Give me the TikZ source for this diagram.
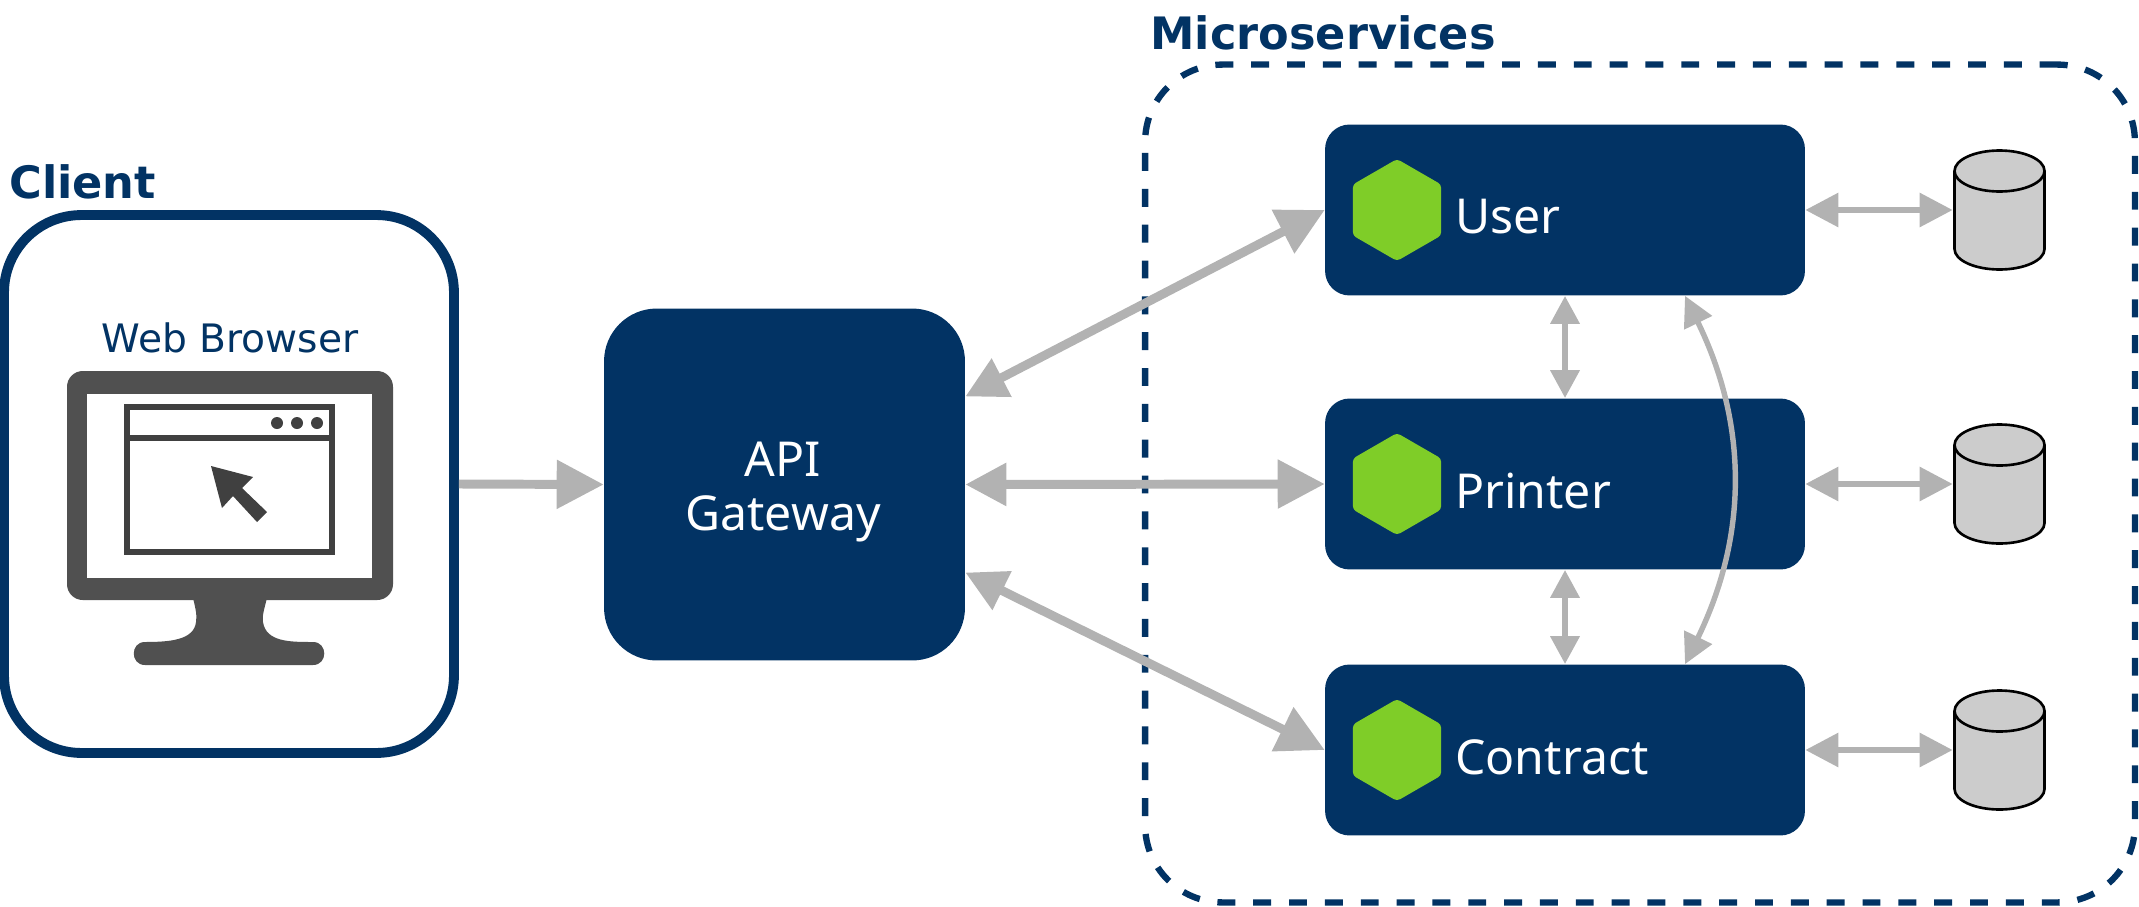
\documentclass[tikz,border=0pt]{standalone}
\usepackage{fontspec}
\setmainfont{DejaVu Sans}
\newfontfamily\svcfont{Noto Sans}
\usetikzlibrary{arrows.meta,shapes.geometric,calc}

\definecolor{navy}{HTML}{023364}
\definecolor{arrowgray}{HTML}{B2B2B2}
\definecolor{leaf}{HTML}{7FCD28}
\definecolor{screen}{HTML}{505050}
\definecolor{window}{HTML}{404040}
\definecolor{disk}{HTML}{CCCCCC}

\tikzset{
  title/.style={anchor=base west,inner sep=0pt,text=navy,font=\bfseries\fontsize{25.4}{30}\selectfont},
  service/.style={fill=navy,rounded corners=14pt,minimum width=9.6cm,minimum height=3.42cm,inner sep=0pt},
  hexa/.style={regular polygon,regular polygon sides=6,shape border rotate=30,fill=leaf,
    minimum size=2.04cm,inner sep=0pt,rounded corners=2pt},
  svclabel/.style={anchor=west,inner sep=0pt,text=white,font=\svcfont\fontsize{27.4}{31}\selectfont},
  dbbox/.style={minimum width=1.86cm,minimum height=2.44cm,inner sep=0pt},
  database/.style={draw=black,line width=1.5pt,fill=disk},
  bigarrow/.style={draw=arrowgray,line width=5.1pt,
    {Triangle[length=.82cm,width=.82cm]}-{Triangle[length=.94cm,width=.94cm]}},
  oneway/.style={draw=arrowgray,line width=5.1pt,-{Triangle[length=.94cm,width=.94cm]}},
  dbarrow/.style={draw=arrowgray,line width=3.4pt,
    {Triangle[length=.66cm,width=.66cm]}-{Triangle[length=.66cm,width=.66cm]}},
  smallarrow/.style={draw=arrowgray,line width=3.7pt,
    {Triangle[length=.56cm,width=.56cm]}-{Triangle[length=.56cm,width=.56cm]}},
  thinarrow/.style={draw=arrowgray,line width=3.1pt,
    {Triangle[length=.6cm,width=.6cm]}-{Triangle[length=.6cm,width=.6cm]}}
}

\begin{document}
\begin{tikzpicture}[x=0.02cm,y=-0.02cm]
\useasboundingbox (0,0) rectangle (2139,906);

% Contenedor de microservicios
\node (micro) at (1640,483.5) [draw=navy,line width=3.6pt,dash pattern=on 10.2pt off 10.2pt,rounded corners=44pt,
  minimum width=19.8cm,minimum height=16.76cm,inner sep=0pt] {};
\node (microtitle) at (1150,49) [title] {Microservices};

% Cliente
\node (client) at (229,484) [draw=navy,line width=5.6pt,fill=white,rounded corners=44pt,
  minimum width=9cm,minimum height=10.76cm,inner sep=0pt] {};
\node (clienttitle) at (9,198) [title] {Client};
\node (browser) at (230,352) [anchor=base,inner sep=0pt,text=navy,font=\fontsize{22.3}{26}\selectfont] {Web Browser};

% Monitor
\fill[screen,rounded corners=9pt] (67,371) rectangle (393,600);
\fill[white] (87,394) rectangle (372,578);
\fill[screen] (193,598) .. controls (196,610) and (197,616) .. (196,622)
  .. controls (194,640) and (170,642) .. (145,642)
  .. controls (130,642) and (130,665) .. (145,665) -- (313,665)
  .. controls (328,665) and (328,642) .. (313,642)
  .. controls (290,642) and (266,642) .. (263,622)
  .. controls (262,616) and (264,610) .. (267,598) -- cycle;

% Ventana y cursor
\draw[window,line width=3.6pt] (127,407) rectangle (332,552);
\draw[window,line width=3.6pt] (127,438) -- (332,438);
\foreach \x in {277,297,317} {
    \fill[window] (\x,423) circle (6);
}
\fill[window] (211,466) -- (253,477) -- (242,488) -- (267,512) -- (257,522)
  -- (233,496) -- (222,508) -- cycle;

% Gateway
\node (gateway) at (784.5,484.5) [fill=navy,rounded corners=30pt,minimum width=7.22cm,minimum height=7.04cm,inner sep=0pt] {};
\node (gatewaylabel) at (783,492) [inner sep=0pt,align=center,text=white,font=\svcfont\fontsize{27.4}{31}\selectfont] {API\\Gateway};

% Servicios y bases de datos
\foreach \name/\txt/\y in {user/User/210,printer/Printer/484,contract/Contract/750} {
    \node (\name) at (1565,\y) [service] {};
    \node (\name hex) at (1397,\y) [hexa] {};
    \node (\name label) at (1455,\y+7) [svclabel] {\txt};
    \node (\name db) at (1999.5,\y) [dbbox] {};
    \draw[database] (1954.5,\y-39) arc[start angle=180,end angle=360,x radius=45,y radius=20.5]
      -- (2044.5,\y+39) arc[start angle=0,end angle=180,x radius=45,y radius=20.5] -- cycle;
    \draw[database,fill=none] (1954.5,\y-39) arc[start angle=180,end angle=0,x radius=45,y radius=20.5];
    \draw[dbarrow] (\name.east) -- (\name db.west);
}

% Flechas
\draw[oneway] (client.east) -- (gateway.west);
\draw[bigarrow] ($(gateway.east)+(0,-88)$) -- (user.west);
\draw[bigarrow] (gateway.east) -- (printer.west);
\draw[bigarrow] ($(gateway.east)+(0,88)$) -- (contract.west);
\draw[smallarrow] (user.south) -- (printer.north);
\draw[smallarrow] (printer.south) -- (contract.north);
\draw[thinarrow] ($(user.south)+(120,0)$) to[bend left=26] ($(contract.north)+(120,0)$);
\end{tikzpicture}
\end{document}
